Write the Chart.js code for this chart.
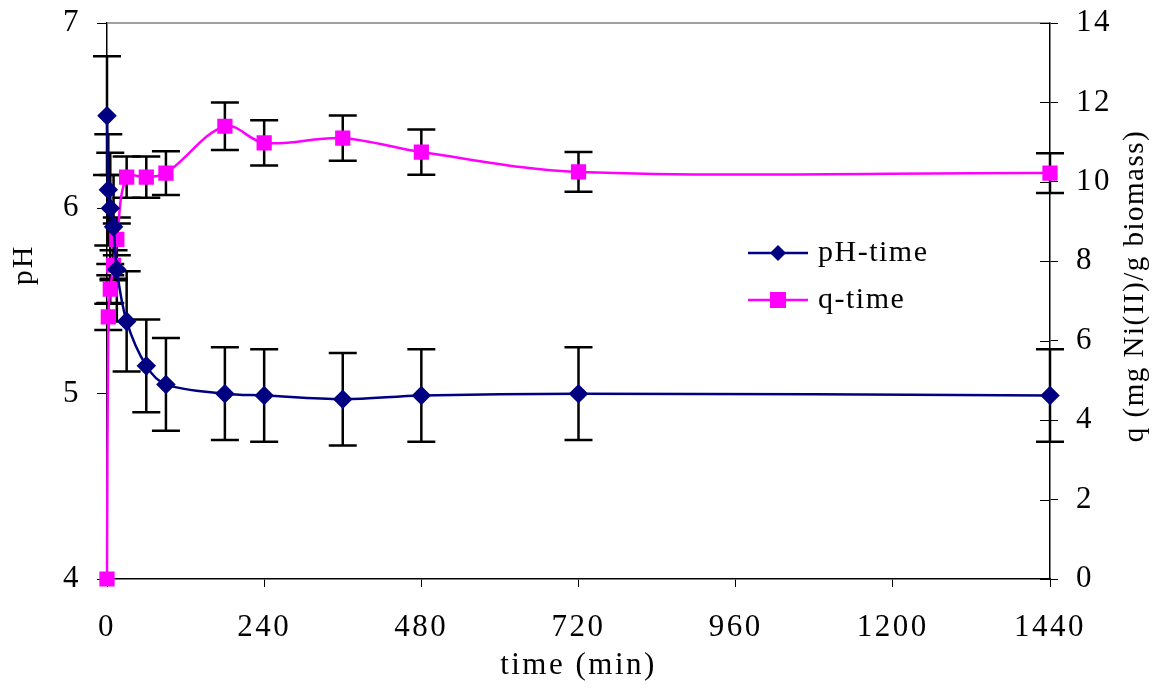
<!DOCTYPE html>
<html>
<head>
<meta charset="utf-8">
<script src="https://cdn.jsdelivr.net/npm/chart.js@4.4.1/dist/chart.umd.min.js"></script>
<style>
  html, body { margin: 0; background: #fff; }
  #wrap { width: 1161px; height: 688px; }
</style>
</head>
<body>
<div id="wrap"><canvas id="grafico"></canvas></div>
<script>
// Datos (pH y q frente al tiempo, con barras de error)
const TIEMPOS = [0, 2, 5, 10, 15, 30, 60, 90, 180, 240, 360, 480, 720, 1440];
const PH      = [6.50, 6.10, 6.00, 5.90, 5.67, 5.39, 5.15, 5.05, 5.00, 4.99, 4.97, 4.99, 5.00, 4.99];
const PH_ERR  = [0.32, 0.30, 0.30, 0.28, 0.28, 0.27, 0.25, 0.25, 0.25, 0.25, 0.25, 0.25, 0.25, 0.25];
const Q       = [0, 6.6, 7.3, 7.9, 8.55, 10.12, 10.12, 10.22, 11.40, 10.98, 11.10, 10.75, 10.25, 10.22];
const Q_ERR   = [0, 0.33, 0.35, 0.38, 0.4, 0.52, 0.52, 0.55, 0.60, 0.57, 0.57, 0.57, 0.50, 0.50];
const X_TICKS = [0, 240, 480, 720, 960, 1200, 1440];
const PH_TICKS = [4, 5, 6, 7];
const Q_TICKS = [0, 2, 4, 6, 8, 10, 12, 14];

const FUENTE = 'Liberation Serif, Times New Roman, serif';
const AZUL = '#000080';
const MAGENTA = '#FF00FF';

const puntos = (ys) => TIEMPOS.map((t, i) => ({ x: t, y: ys[i] }));

// texto girado -90° (se lee de abajo hacia arriba), como los títulos de eje del original
function textoVertical(ctx, txt, x, y, tam, esp) {
  ctx.save();
  ctx.translate(x, y);
  ctx.rotate(-Math.PI / 2);
  ctx.letterSpacing = esp;
  ctx.font = tam + 'px ' + FUENTE;
  ctx.fillStyle = '#000';
  ctx.textAlign = 'center';
  ctx.textBaseline = 'middle';
  ctx.fillText(txt, 0, 0);
  ctx.restore();
}

const extras = {
  id: 'extras',
  beforeDraw(chart) {
    chart.ctx.letterSpacing = '2.5px'; // el original tiene el texto algo espaciado
  },
  // barras de error: antes de las series, con las escalas del gráfico
  beforeDatasetsDraw(chart) {
    const { ctx, scales } = chart;
    const x = scales.x;
    const pares = [[scales.yPH, PH, PH_ERR], [scales.yQ, Q, Q_ERR]];
    ctx.save();
    ctx.strokeStyle = '#000';
    ctx.lineWidth = 2.5;
    pares.forEach(([esc, vals, errs]) => {
      TIEMPOS.forEach((t, i) => {
        if (!errs[i]) return;
        const px = x.getPixelForValue(t);
        const top = esc.getPixelForValue(vals[i] + errs[i]);
        const bot = esc.getPixelForValue(vals[i] - errs[i]);
        ctx.beginPath();
        ctx.moveTo(px, top); ctx.lineTo(px, bot);
        ctx.moveTo(px - 14, top); ctx.lineTo(px + 14, top);
        ctx.moveTo(px - 14, bot); ctx.lineTo(px + 14, bot);
        ctx.stroke();
      });
    });
    ctx.restore();
  },
  afterDraw(chart) {
    const { ctx, chartArea: a, scales } = chart;
    ctx.save();
    // marco superior gris
    ctx.strokeStyle = '#808080';
    ctx.lineWidth = 1.5;
    ctx.beginPath();
    ctx.moveTo(a.left, a.top); ctx.lineTo(a.right, a.top);
    ctx.stroke();

    // marcas del eje derecho que también entran al área
    ctx.strokeStyle = '#000';
    ctx.lineWidth = 1;
    ctx.beginPath();
    Q_TICKS.forEach(v => {
      const py = Math.round(scales.yQ.getPixelForValue(v)) + 0.5;
      ctx.moveTo(a.right - 10, py); ctx.lineTo(a.right, py);
    });
    ctx.stroke();

    // leyenda dentro del área
    const items = [
      { txt: 'pH-time', color: AZUL, forma: 'rombo', y: a.top + 230 },
      { txt: 'q-time', color: MAGENTA, forma: 'cuadrado', y: a.top + 277 },
    ];
    const x0 = a.left + 641;
    ctx.letterSpacing = '1.5px';
    items.forEach(it => {
      ctx.strokeStyle = it.color;
      ctx.fillStyle = it.color;
      ctx.lineWidth = 2.5;
      ctx.beginPath();
      ctx.moveTo(x0, it.y); ctx.lineTo(x0 + 60, it.y);
      ctx.stroke();
      const cx = x0 + 30;
      ctx.beginPath();
      if (it.forma === 'rombo') {
        ctx.moveTo(cx, it.y - 8); ctx.lineTo(cx + 8, it.y); ctx.lineTo(cx, it.y + 8); ctx.lineTo(cx - 8, it.y);
        ctx.closePath(); ctx.fill();
      } else {
        ctx.fillRect(cx - 8, it.y - 8, 16, 16);
      }
      ctx.fillStyle = '#000';
      ctx.font = '30px ' + FUENTE;
      ctx.textBaseline = 'middle';
      ctx.fillText(it.txt, x0 + 70, it.y);
    });
    ctx.restore();

    // títulos de los ejes verticales
    textoVertical(ctx, 'pH', 24, 265, 30, '2px');
    textoVertical(ctx, 'q (mg Ni(II)/g biomass)', 1135, 286, 29, '1.5px');
  }
};

const fuenteTicks = { family: FUENTE, size: 31 };
const sinComas = v => String(v);
// fija el tamaño de cada eje y anula el relleno extra que Chart.js añade por las etiquetas
const fijar = (dim, px) => s => {
  s[dim] = px;
  s.paddingTop = 0; s.paddingBottom = 0; s.paddingLeft = 0; s.paddingRight = 0;
};

new Chart(document.getElementById('grafico'), {
  type: 'line',
  data: {
    datasets: [
      {
        label: 'pH-time', data: puntos(PH), yAxisID: 'yPH',
        borderColor: AZUL, backgroundColor: AZUL, borderWidth: 2.5,
        pointStyle: 'rectRot', pointRadius: 8, pointHoverRadius: 8,
        tension: 0.35, clip: false,
      },
      {
        label: 'q-time', data: puntos(Q), yAxisID: 'yQ',
        borderColor: MAGENTA, backgroundColor: MAGENTA, borderWidth: 2.5,
        pointStyle: 'rect', pointRadius: 9, pointHoverRadius: 9,
        tension: 0.35, clip: false,
      },
    ],
  },
  options: {
    responsive: true, maintainAspectRatio: false, animation: false,
    layout: { padding: { top: 23 } },
    plugins: { legend: { display: false }, tooltip: { enabled: false } },
    scales: {
      x: {
        type: 'linear', min: 0, max: 1440,
        afterFit: fijar('height', 109),
        afterBuildTicks: s => { s.ticks = X_TICKS.map(v => ({ value: v })); },
        grid: { drawOnChartArea: false, tickLength: 8, color: '#000' },
        border: { color: '#000', width: 1.5 },
        ticks: { font: fuenteTicks, color: '#000', padding: 22, maxRotation: 0, callback: sinComas },
        title: { display: true, text: 'time (min)', font: fuenteTicks, color: '#000', padding: { top: 0 } },
      },
      yPH: {
        position: 'left', min: 4, max: 7,
        afterFit: fijar('width', 107),
        afterBuildTicks: s => { s.ticks = PH_TICKS.map(v => ({ value: v })); },
        grid: { drawOnChartArea: false, tickLength: 10, color: '#000' },
        border: { color: '#000', width: 1.5 },
        ticks: { font: fuenteTicks, color: '#000', padding: 16, callback: sinComas },
      },
      yQ: {
        position: 'right', min: 0, max: 14,
        afterFit: fijar('width', 111),
        afterBuildTicks: s => { s.ticks = Q_TICKS.map(v => ({ value: v })); },
        grid: { drawOnChartArea: false, tickLength: 8, color: '#000' },
        border: { color: '#000', width: 1.5 },
        ticks: { font: fuenteTicks, color: '#000', padding: 18, callback: sinComas },
      },
    },
  },
  plugins: [extras],
});
</script>
</body>
</html>
